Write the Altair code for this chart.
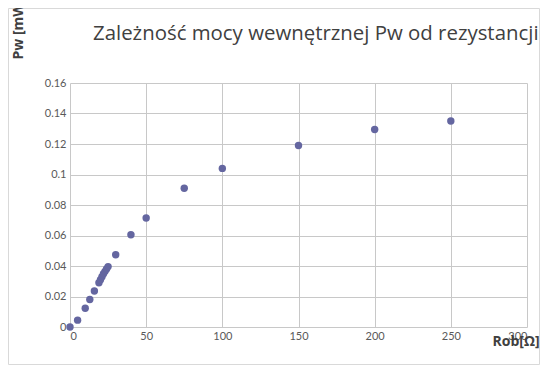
import altair as alt
import pandas as pd

# Data
rob = [0, 5, 10, 13, 16, 19, 20, 21, 22, 23, 24, 25, 30, 40, 50, 75, 100, 150, 200, 250]
pw = [0.0, 0.0045, 0.0123, 0.0180, 0.0236, 0.0290, 0.0310, 0.0330, 0.0350,
      0.0365, 0.0380, 0.0396, 0.0474, 0.0605, 0.0715, 0.0910, 0.1040, 0.1190,
      0.1295, 0.1351]

x_ticks = [0, 50, 100, 150, 200, 250, 300]
y_ticks = [0, 0.02, 0.04, 0.06, 0.08, 0.1, 0.12, 0.14, 0.16]

title_text = "Zależność mocy wewnętrznej Pw od rezystancji"
y_title = "Pw [mW]"
x_title = "Rob[Ω]"

df = pd.DataFrame({"rob": rob, "pw": pw})
one = pd.DataFrame({"a": [0]})

W, H = 457, 244
PL, PT, PR, PB = 62, 75, 13, 38
grid_col = "#c8c8c8"
lab_col = "#595959"
txt_col = "#404040"

points = alt.Chart(df).mark_circle(size=55, color="#6466a0", opacity=1).encode(
    x=alt.X("rob:Q", scale=alt.Scale(domain=[0, 300], nice=False),
            axis=alt.Axis(values=x_ticks, title=None, grid=True, gridColor=grid_col,
                          domain=False, ticks=False, labelPadding=3,
                          labelFont="Lato", labelFontSize=11, labelColor=lab_col)),
    y=alt.Y("pw:Q", scale=alt.Scale(domain=[0, 0.16], nice=False),
            axis=alt.Axis(values=y_ticks, title=None, grid=True, gridColor=grid_col,
                          domain=False, ticks=False, labelPadding=4, format="~g",
                          labelFont="Lato", labelFontSize=11, labelColor=lab_col)),
)

frame = alt.Chart(one).mark_rect(fill=None, stroke="#d9d9d9", strokeWidth=1).encode(
    x=alt.value(-PL + 0.5), x2=alt.value(W + PR - 0.5),
    y=alt.value(-PT + 0.5), y2=alt.value(H + PB - 0.5),
)

title = alt.Chart(one).mark_text(
    text=title_text, align="left", baseline="alphabetic", font="Open Sans",
    fontSize=20.4, color=txt_col,
).encode(x=alt.value(23), y=alt.value(-43))

ytitle = alt.Chart(one).mark_text(
    text=y_title, align="center", baseline="middle", angle=270, font="Open Sans",
    fontSize=14, fontWeight="bold", color=txt_col,
).encode(x=alt.value(-51), y=alt.value(-54))

xtitle = alt.Chart(one).mark_text(
    text=x_title, align="center", baseline="middle", font="Open Sans",
    fontSize=14, fontWeight="bold", color=txt_col,
).encode(x=alt.value(446), y=alt.value(259))

chart = alt.layer(frame, points, title, ytitle, xtitle).properties(
    width=W, height=H,
    autosize=alt.AutoSizeParams(type="none"),
    padding={"left": PL, "top": PT, "right": PR, "bottom": PB},
).configure_view(stroke=None)

chart.save("out.html", embed_options={"renderer": "svg", "actions": False})
